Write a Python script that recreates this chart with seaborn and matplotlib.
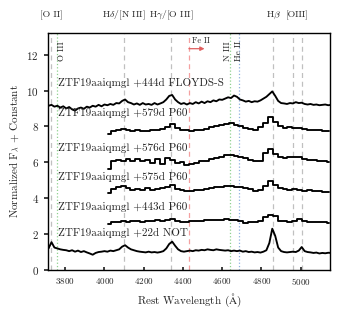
import numpy as np
import pandas as pd
import matplotlib
matplotlib.use("Agg")
import matplotlib.pyplot as plt
import seaborn as sns

# ---------------- data ----------------
wave_hr = [3715, 3730, 3745, 3760, 3775, 3790, 3805, 3820, 3835, 3850, 3865, 3880, 3895, 3910,
           3925, 3940, 3955, 3970, 3985, 4000, 4015, 4030, 4045, 4060, 4075, 4090, 4105, 4120,
           4135, 4150, 4165, 4180, 4195, 4210, 4225, 4240, 4255, 4270, 4285, 4300, 4315, 4330,
           4345, 4360, 4375, 4390, 4405, 4420, 4435, 4450, 4465, 4480, 4495, 4510, 4525, 4540,
           4555, 4570, 4585, 4600, 4615, 4630, 4645, 4660, 4675, 4690, 4705, 4720, 4735, 4750,
           4765, 4780, 4795, 4810, 4825, 4840, 4855, 4870, 4885, 4900, 4915, 4930, 4945, 4960,
           4975, 4990, 5005, 5020, 5035, 5050, 5065, 5080, 5095, 5110, 5125, 5140, 5155]

flux_floyds_444 = [9.15, 9.2, 9.1, 9.15, 9.05, 9.12, 9.0, 9.08, 8.95, 8.88, 9.0, 9.05, 8.98, 9.1,
                   9.05, 9.15, 9.1, 9.2, 9.12, 9.22, 9.18, 9.25, 9.2, 9.3, 9.28, 9.42, 9.5, 9.35,
                   9.3, 9.22, 9.28, 9.2, 9.3, 9.22, 9.25, 9.2, 9.3, 9.22, 9.28, 9.35, 9.5, 9.7,
                   9.75, 9.5, 9.35, 9.25, 9.3, 9.22, 9.3, 9.25, 9.35, 9.28, 9.38, 9.3, 9.4, 9.35,
                   9.45, 9.4, 9.5, 9.48, 9.55, 9.62, 9.58, 9.72, 9.65, 9.5, 9.45, 9.38, 9.42, 9.35,
                   9.4, 9.38, 9.45, 9.55, 9.65, 9.8, 9.95, 9.7, 9.42, 9.3, 9.28, 9.25, 9.3, 9.28,
                   9.35, 9.3, 9.32, 9.25, 9.22, 9.25, 9.2, 9.22, 9.18, 9.2, 9.22, 9.18, 9.2]

flux_not_22 = [1.2, 1.55, 1.25, 1.2, 1.15, 1.12, 1.1, 1.05, 1.1, 1.02, 1.08, 1.0, 1.05, 0.98,
               0.92, 0.85, 0.95, 1.0, 1.02, 1.05, 1.02, 1.08, 1.05, 1.1, 1.15, 1.3, 1.38, 1.25,
               1.15, 1.1, 1.05, 1.02, 1.0, 0.98, 1.02, 0.98, 1.0, 0.97, 1.0, 1.05, 1.2, 1.45,
               1.58, 1.35, 1.15, 1.05, 1.02, 1.05, 1.08, 1.05, 1.1, 1.08, 1.12, 1.1, 1.15, 1.12,
               1.1, 1.15, 1.12, 1.1, 1.08, 1.1, 1.05, 1.08, 1.05, 1.08, 1.02, 1.05, 1.0, 1.02,
               0.98, 1.0, 0.97, 1.02, 1.1, 1.5, 2.3, 1.9, 1.25, 1.05, 1.0, 0.98, 1.0, 1.02,
               1.0, 1.08, 1.28, 1.05, 1.0, 0.98, 0.95, 0.97, 0.92, 0.95, 0.93, 0.96, 0.95]

wave_p60 = [4020, 4045, 4070, 4095, 4120, 4145, 4170, 4195, 4220, 4245, 4270, 4295, 4320, 4345,
            4370, 4395, 4420, 4445, 4470, 4495, 4520, 4545, 4570, 4595, 4620, 4645, 4670, 4695,
            4720, 4745, 4770, 4795, 4820, 4845, 4870, 4895, 4920, 4945, 4970, 4995, 5020, 5045,
            5070, 5095, 5120, 5145]

flux_p60_443 = [2.55, 2.68, 2.7, 2.72, 2.7, 2.75, 2.72, 2.7, 2.75, 2.73, 2.76, 2.72, 2.78, 2.85,
                2.75, 2.7, 2.68, 2.72, 2.75, 2.73, 2.78, 2.76, 2.8, 2.78, 2.82, 2.8, 2.78, 2.72,
                2.62, 2.65, 2.68, 2.72, 2.95, 3.08, 2.98, 2.75, 2.72, 2.7, 2.72, 2.82, 2.72, 2.7,
                2.68, 2.66, 2.65, 2.62]

flux_p60_575 = [4.3, 4.5, 4.6, 4.7, 4.55, 4.45, 4.52, 4.48, 4.58, 4.45, 4.52, 4.55, 4.62, 4.72,
                4.5, 4.45, 4.42, 4.4, 4.45, 4.48, 4.5, 4.55, 4.6, 4.65, 4.68, 4.7, 4.65, 4.62,
                4.55, 4.5, 4.42, 4.45, 4.68, 4.95, 4.75, 4.55, 4.5, 4.48, 4.5, 4.45, 4.42, 4.45,
                4.4, 4.38, 4.36, 4.35]

flux_p60_576 = [5.6, 6.1, 6.15, 6.05, 6.2, 6.05, 6.2, 6.1, 6.15, 5.95, 6.2, 5.9, 6.25, 6.15,
                5.95, 6.0, 5.85, 5.9, 5.95, 6.05, 6.1, 6.2, 6.25, 6.3, 6.42, 6.4, 6.35, 6.3,
                6.22, 6.15, 6.05, 6.1, 6.5, 6.72, 6.45, 6.3, 6.25, 6.3, 6.28, 6.32, 6.2, 6.15,
                6.12, 6.08, 6.05, 6.02]

flux_p60_579 = [7.6, 7.75, 7.78, 7.85, 7.8, 7.75, 7.78, 7.72, 7.75, 7.78, 7.8, 7.85, 7.95, 8.15,
                7.9, 7.8, 7.78, 7.75, 7.8, 7.82, 7.88, 7.95, 8.05, 8.1, 8.15, 8.2, 8.1, 8.0,
                7.92, 7.85, 7.8, 7.95, 8.2, 8.5, 8.25, 8.0, 7.92, 7.95, 7.9, 7.92, 7.85, 7.82,
                7.8, 7.78, 7.75, 7.72]

spec_labels = ["ZTF19aaiqmgl +444d FLOYDS-S", "ZTF19aaiqmgl +579d P60",
               "ZTF19aaiqmgl +576d P60", "ZTF19aaiqmgl +575d P60",
               "ZTF19aaiqmgl +443d P60", "ZTF19aaiqmgl +22d NOT"]
label_y = [10.4, 8.75, 6.8, 5.2, 3.5, 2.05]

line_dash_waves = [3727, 4101, 4340, 4861, 4959, 5007]
top_labels = ["[O II]", r"H$\delta$/[N III]", r"H$\gamma$/[O III]", r"H$\beta$", "[OIII]"]
top_label_x = [3727, 4101, 4340, 4861, 4985]

# ---------------- style ----------------
sns.set_theme(style="ticks")
plt.rcParams["font.family"] = ["cmr10", "DejaVu Serif"]
plt.rcParams["mathtext.fontset"] = "cm"
plt.rcParams["axes.unicode_minus"] = False
plt.rcParams["axes.formatter.use_mathtext"] = True

fig = plt.figure(figsize=(3.45, 3.18), dpi=100)
ax = fig.add_axes([0.139, 0.151, 0.818, 0.745])

# reference lines
for w in line_dash_waves:
    ax.axvline(w, color="#c0c0c0", ls=(0, (4, 3)), lw=0.9, zorder=0)
ax.axvline(3760, color="#8fd18f", ls=":", lw=0.9, zorder=0)
ax.axvline(4640, color="#8fd18f", ls=":", lw=0.9, zorder=0)
ax.axvline(4686, color="#8fb0e0", ls=":", lw=0.9, zorder=0)
ax.axvline(4430, color="#f4a0a0", ls=(0, (4, 3)), lw=0.9, zorder=0)

lc = "black"
lw = 1.35
sns.lineplot(x=wave_hr, y=flux_floyds_444, ax=ax, color=lc, lw=lw, estimator=None, sort=False)
sns.lineplot(x=wave_hr, y=flux_not_22, ax=ax, color=lc, lw=lw, estimator=None, sort=False)
for f in [flux_p60_579, flux_p60_576, flux_p60_575, flux_p60_443]:
    sns.lineplot(x=wave_p60, y=f, ax=ax, color=lc, lw=lw, estimator=None, sort=False,
                 drawstyle="steps-mid")

for lab, yy in zip(spec_labels, label_y):
    ax.text(3765, yy, lab, fontsize=8, color="#222222", va="center", ha="left")

# top labels
trans = ax.get_xaxis_transform()
for lab, xx in zip(top_labels, top_label_x):
    ax.text(xx, 1.075, lab, transform=trans, fontsize=7, ha="center", va="center",
            clip_on=False)

# rotated labels
ax.text(3782, 12.2, "O III", rotation=90, fontsize=6.5, ha="center", va="center")
ax.text(4626, 12.2, "N III", rotation=90, fontsize=6.5, ha="center", va="center")
ax.text(4682, 12.2, "He II", rotation=90, fontsize=6.5, ha="center", va="center")
ax.text(4445, 12.75, "Fe II", fontsize=6, ha="left", va="center")
ax.annotate("", xy=(4510, 12.33), xytext=(4430, 12.33),
            arrowprops=dict(arrowstyle="-|>", color="#e06060", lw=0.9,
                            mutation_scale=6, shrinkA=0, shrinkB=0))

ax.set_xlim(3712, 5150)
ax.set_ylim(0, 13.2)
ax.set_xticks([3800, 4000, 4200, 4400, 4600, 4800, 5000])
ax.set_yticks([0, 2, 4, 6, 8, 10, 12])
ax.tick_params(axis="x", direction="in", length=2.5, labelsize=6.5, pad=4)
ax.tick_params(axis="y", direction="out", length=3, labelsize=8)
for s in ax.spines.values():
    s.set_linewidth(1.0)
    s.set_color("black")

ax.set_xlabel(r"Rest Wavelength ($\mathrm{\AA}$)", fontsize=8, labelpad=4)
ax.set_ylabel(r"Normalized F$_\lambda$ + Constant", fontsize=8, labelpad=4)

fig.savefig("out.png", dpi=100)
